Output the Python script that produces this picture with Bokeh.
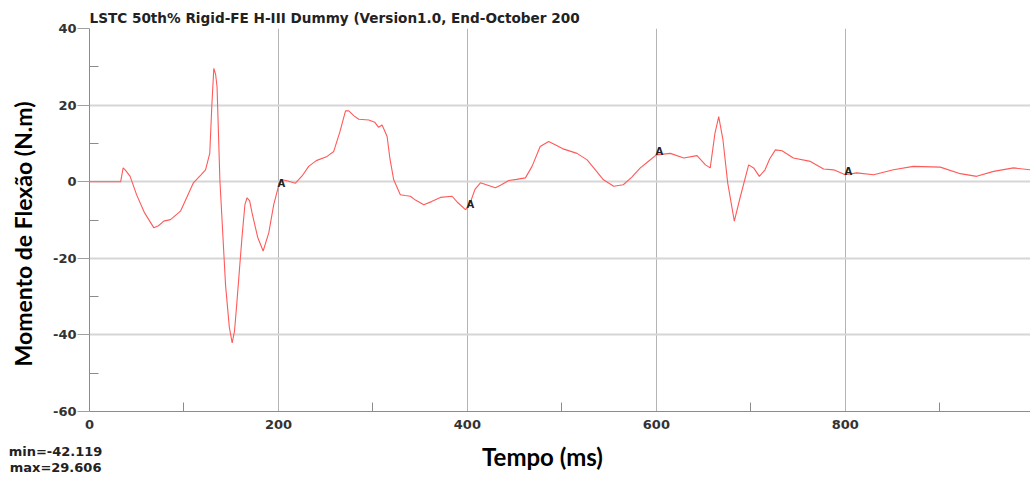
from bokeh.plotting import figure
from bokeh.models import Range1d, FixedTicker, LinearAxis, ColumnDataSource
from bokeh.core.properties import value
from bokeh.embed import file_html
from bokeh.resources import INLINE

# ---- data ----
tempo_ms = [0, 33, 35.6, 38, 43, 50, 58, 68, 73, 78.6, 85.7, 96.3, 110, 118, 122.8, 127.3,
            129.5, 131.6, 133.5, 135, 138, 144, 148, 151, 153.5, 156, 161.5, 164.5, 166.8,
            169.5, 172, 178, 183.8, 189.8, 195, 200, 203.9, 210, 218, 225, 232, 240, 251.5,
            258.5, 265, 271, 274.4, 280, 285, 295.6, 302, 306, 309.7, 315, 318, 322, 329,
            334, 339.7, 345, 353.8, 362, 371.4, 383.8, 390, 397.9, 400, 403, 408, 413.8, 420,
            429.6, 436, 443.7, 452, 461.4, 468.4, 477, 486, 494, 502, 516, 526.7, 535, 544,
            554.8, 565, 574, 583, 592, 600, 614.8, 629, 643, 652, 657, 662, 666, 670.5, 675.5,
            682.5, 689, 697.7, 703, 709, 715, 720, 726, 733, 745, 763, 777, 787.6, 800, 812,
            830, 851, 872, 900.5, 921.7, 939, 957, 978, 996]
momento = [0, 0, 3.6, 3.0, 1.4, -3.5, -8, -12, -11.5, -10.3, -9.9, -7.7, -0.3, 1.8, 3.1, 7.4,
           20, 29.6, 28, 24.8, 0.5, -27, -38, -42.1, -39, -31.5, -14.2, -6, -4.2,
           -5, -8.1, -14.5, -18.1, -13.3, -6, -1.2, 0.5, 0.2, -0.4, 1.5, 4, 5.5, 6.6,
           7.9, 13, 18.5, 18.5, 17.2, 16.3, 16.1, 15.5, 14.2, 14.8, 11.8, 6, 0.5, -3.4,
           -3.6, -3.8, -4.8, -6.0, -5.2, -4.1, -3.8, -5.5, -7.3, -6.8, -5.5, -2, -0.3, -0.8,
           -1.6, -0.8, 0.3, 0.6, 1.0, 4.0, 9.2, 10.5, 9.5, 8.5, 7.4, 5.7, 3.2, 0.5,
           -1.2, -0.8, 1.2, 3.6, 5.4, 7.0, 7.4, 6.2, 6.8, 4.4, 3.6, 12.6, 17, 10.9, -0.3,
           -10.3, -3.8, 4.4, 3.6, 1.4, 3.1, 6, 8.3, 8.1, 6.2, 5.3, 3.3, 3.1, 1.8, 2.3,
           1.8, 3.1, 4.0, 3.8, 2.1, 1.4, 2.7, 3.6, 3.1]
marker_times = [200, 400, 600, 800]
marker_text = ["A", "A", "A", "A"]
x_ticks = [0, 200, 400, 600, 800]
x_minor = [100, 300, 500, 700, 900]
y_ticks = [-60, -40, -20, 0, 20, 40]
y_minor = [-50, -30, -10, 10, 30]
title_text = "LSTC 50th% Rigid-FE H-III Dummy (Version1.0, End-October 200"
x_label = "Tempo (ms)"
y_label = "Momento de Flexão (N.m)"
min_text = "min=-42.119"
max_text = "max=29.606"

NB = "\u00a0"

p = figure(width=1030, height=477, output_backend="svg", toolbar_location=None,
           x_range=Range1d(0, 996), y_range=Range1d(-60, 40),
           min_border_left=89, min_border_right=0, min_border_top=28, min_border_bottom=66)
p.outline_line_color = None
p.background_fill_color = "white"
p.border_fill_color = "white"

# title
p.title.text = title_text
p.title.align = "left"
p.title.text_font = "DejaVu Sans"
p.title.text_font_style = "bold"
p.title.text_font_size = "13.6px"
p.title.text_color = "#222222"
p.title.standoff = 5

# grids
p.xgrid.grid_line_color = "#b4b4b4"
p.xgrid.grid_line_width = 1
p.ygrid.grid_line_color = "#d6d6d6"
p.ygrid.grid_line_width = 2

# axes
p.xaxis.ticker = FixedTicker(ticks=x_ticks, minor_ticks=x_minor)
p.yaxis.ticker = FixedTicker(ticks=y_ticks, minor_ticks=y_minor)
p.xaxis.major_label_overrides = {float(t): str(t) for t in x_ticks}
p.yaxis.major_label_overrides = {float(t): str(t) for t in y_ticks}
for ax in (p.xaxis[0], p.yaxis[0]):
    ax.axis_line_color = "#8c8c8c"
    ax.axis_line_width = 1
    ax.minor_tick_in = 9
    ax.minor_tick_out = 0
    ax.minor_tick_line_color = "#8c8c8c"
    ax.major_label_text_font = "DejaVu Sans"
    ax.major_label_text_font_style = "bold"
    ax.major_label_text_font_size = "13px"
    ax.major_label_text_color = "#333333"
p.yaxis.major_tick_out = 12
p.yaxis.major_tick_in = 0
p.yaxis.major_tick_line_color = "#a0a0a0"
p.yaxis.major_label_standoff = 1
p.yaxis.axis_label = y_label + NB * 5
p.yaxis.axis_label_text_font = "Lato"
p.yaxis.axis_label_text_font_style = "bold"
p.yaxis.axis_label_text_color = "#000000"
p.yaxis.axis_label_text_font_size = "23px"
p.yaxis.axis_label_standoff = 13
p.xaxis.major_tick_out = 0
p.xaxis.major_tick_in = 0
p.xaxis.major_label_standoff = 8

# extra bottom axes that carry the min / max texts and the x title
def text_axis(txt, standoff):
    ax = LinearAxis(ticker=FixedTicker(ticks=[0], minor_ticks=[]),
                    major_label_overrides={0.0: txt + NB * 15},
                    axis_line_color=None, major_tick_line_color=None,
                    minor_tick_line_color=None, major_tick_out=0, major_tick_in=0,
                    minor_tick_out=0, minor_tick_in=0, major_label_standoff=standoff,
                    major_label_text_font="DejaVu Sans", major_label_text_font_style="bold",
                    major_label_text_font_size="13px", major_label_text_color="#222222")
    p.add_layout(ax, "below")
    return ax

text_axis(min_text, 12)
ax_max = text_axis(max_text, -2)
ax_max.axis_label = x_label + NB * 6
ax_max.axis_label_text_font = "Lato"
ax_max.axis_label_text_font_style = "bold"
ax_max.axis_label_text_color = "#000000"
ax_max.axis_label_text_font_size = "24px"
ax_max.axis_label_standoff = -36

src = ColumnDataSource(dict(t=tempo_ms, m=momento))
p.line("t", "m", source=src, line_color="#ff5a5a", line_width=1.1)

mk_y = [momento[tempo_ms.index(t)] for t in marker_times]
msrc = ColumnDataSource(dict(t=marker_times, m=mk_y, s=marker_text))
p.text("t", "m", text="s", source=msrc, text_font=value("DejaVu Sans"),
       text_font_style="bold", text_font_size="10px", text_color="#222222",
       text_align="center", text_baseline="middle", x_offset=3, y_offset=-3)

open("out.html", "w").write(file_html(p, INLINE))
